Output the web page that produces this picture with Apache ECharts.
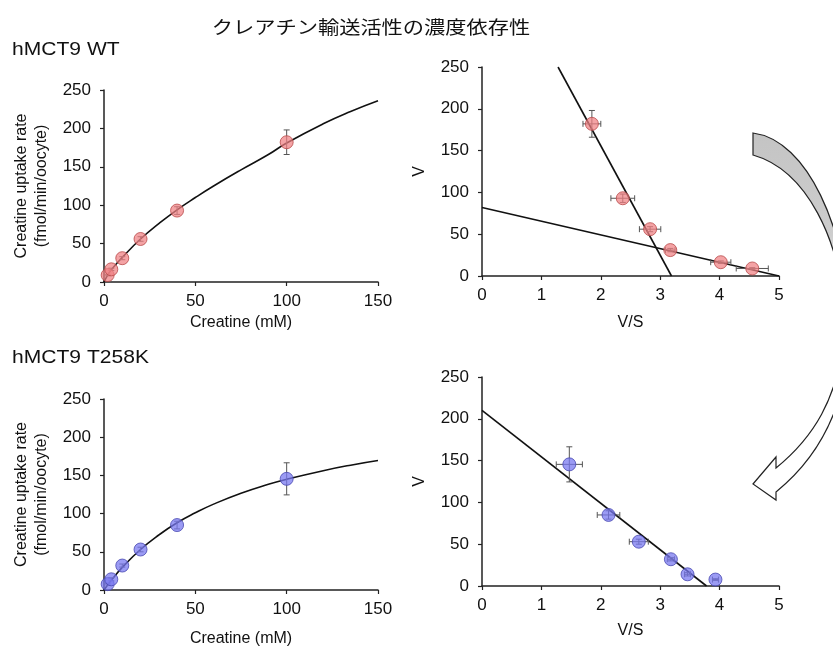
<!DOCTYPE html>
<html>
<head>
<meta charset="utf-8">
<script src="https://cdn.jsdelivr.net/npm/echarts@6/dist/echarts.min.js"></script>
<style>
html,body{margin:0;padding:0;background:#fff;}
#chart{width:833px;height:648px;}
</style>
</head>
<body>
<div id="chart"></div>
<script>
// ---------- data ----------
const titleText = 'クレアチン輸送活性の濃度依存性';
const panelWT = 'hMCT9 WT';
const panelMT = 'hMCT9 T258K';

const conc = [2, 4, 10, 20, 40, 100];                 // Creatine (mM)
const wtRate = [9, 16.5, 31, 56, 93, 182];            // uptake rate WT
const wtRateErr = [1, 1.5, 2, 3, 5, 16];
const wtVS = [4.55, 4.02, 3.17, 2.83, 2.37, 1.85];     // V/S WT
const wtVSErr = [0.27, 0.17, 0.08, 0.18, 0.2, 0.15];

const mtRate = [7.7, 14, 32, 53, 85, 145.5];          // uptake rate T258K
const mtRateErr = [1, 2, 2, 3, 5, 21];
const mtVS = [3.93, 3.46, 3.18, 2.64, 2.13, 1.47];     // V/S T258K
const mtVSErr = [0.05, 0.05, 0.06, 0.16, 0.19, 0.22];

// fitted curves
const fitConc = [0, 2, 4, 10, 20, 30, 40, 50, 60, 75, 90, 100, 120, 135, 150];
const wtFit =   [0, 9, 16, 32, 56, 76, 94, 110, 125, 146, 166, 181, 206, 222, 236];
const mtFit =   [0, 6.5, 12.7, 29.6, 53, 72, 88, 101, 112.4, 126.7, 138.4, 145, 156.2, 163.4, 169.5];

// Eadie-Hofstee regression lines (end points)
const wtLine1VS = [1.28, 3.19];
const wtLine1V  = [250, 0];
const wtLine2VS = [0, 5];
const wtLine2V  = [82, 0];
const mtLineVS  = [0, 3.78];
const mtLineV   = [210, 0];

const mmXTicks = [0, 150, 50];   // min, max, interval
const ehXTicks = [0, 5, 1];
const yTicks   = [0, 250, 50];

// ---------- helpers ----------
const zip = (a, b) => a.map((v, i) => [v, b[i]]);
const font = '"Liberation Sans", Arial, sans-serif';
const axisColor = '#222';

function xAx(gi, t, name, gap) {
  return {
    gridIndex: gi, type: 'value', min: t[0], max: t[1], interval: t[2],
    name: name, nameLocation: 'middle', nameGap: gap,
    nameTextStyle: {fontFamily: font, fontSize: 16, color: '#111'},
    axisLine: {show: true, onZero: false, lineStyle: {color: axisColor, width: 1.5}},
    axisTick: {show: true, inside: false, length: 4, lineStyle: {color: axisColor, width: 1.2}},
    axisLabel: {fontFamily: font, fontSize: 17, color: '#111', margin: 11},
    splitLine: {show: false}
  };
}
function yAx(gi, t, name, gap, lh) {
  return {
    gridIndex: gi, type: 'value', min: t[0], max: t[1], interval: t[2],
    name: name, nameLocation: 'middle', nameGap: gap, nameRotate: 90,
    nameTextStyle: {fontFamily: font, fontSize: 16, color: '#111', lineHeight: lh},
    axisLine: {show: true, onZero: false, lineStyle: {color: axisColor, width: 1.5}},
    axisTick: {show: true, inside: false, length: 4, lineStyle: {color: axisColor, width: 1.2}},
    axisLabel: {fontFamily: font, fontSize: 17, color: '#111', margin: 13},
    splitLine: {show: false}
  };
}

function errSeries(idx, xs, ys, xe, ye) {
  return {
    type: 'custom', xAxisIndex: idx, yAxisIndex: idx, z: 3,
    data: xs.map((x, i) => [x, ys[i], xe ? xe[i] : 0, ye ? ye[i] : 0]),
    encode: {x: 0, y: 1},
    renderItem: function (params, api) {
      const x = api.value(0), y = api.value(1), ex = api.value(2), ey = api.value(3);
      const ch = [];
      const st = {stroke: '#555', lineWidth: 1};
      const cap = 3;
      if (ey > 0) {
        const a = api.coord([x, y - ey]), b = api.coord([x, y + ey]);
        ch.push({type: 'line', shape: {x1: a[0], y1: a[1], x2: b[0], y2: b[1]}, style: st});
        ch.push({type: 'line', shape: {x1: a[0] - cap, y1: a[1], x2: a[0] + cap, y2: a[1]}, style: st});
        ch.push({type: 'line', shape: {x1: b[0] - cap, y1: b[1], x2: b[0] + cap, y2: b[1]}, style: st});
      }
      if (ex > 0) {
        const a = api.coord([x - ex, y]), b = api.coord([x + ex, y]);
        ch.push({type: 'line', shape: {x1: a[0], y1: a[1], x2: b[0], y2: b[1]}, style: st});
        ch.push({type: 'line', shape: {x1: a[0], y1: a[1] - cap, x2: a[0], y2: a[1] + cap}, style: st});
        ch.push({type: 'line', shape: {x1: b[0], y1: b[1] - cap, x2: b[0], y2: b[1] + cap}, style: st});
      }
      return {type: 'group', children: ch};
    }
  };
}

const redStyle = {color: 'rgba(240,128,130,0.9)', borderColor: '#b84a4a', borderWidth: 1};
const blueStyle = {color: 'rgba(120,120,240,0.92)', borderColor: '#4848b0', borderWidth: 1};

function scatter(idx, xs, ys, st) {
  return {type: 'scatter', xAxisIndex: idx, yAxisIndex: idx, z: 4, symbolSize: 13,
          data: zip(xs, ys), itemStyle: st, emphasis: {disabled: true}};
}
function curve(idx, xs, ys, smooth) {
  return {type: 'line', xAxisIndex: idx, yAxisIndex: idx, z: 2, smooth: smooth, showSymbol: false,
          symbol: 'none', data: zip(xs, ys), lineStyle: {color: '#111', width: 1.6}};
}

// decorative curved arrow between the two Eadie-Hofstee panels
const arrowPath = 'M753 133 C808 140 846 230 850 320 C850 405 818 458 776 492 L776 500 L753 484 L776 457 L776 468 C808 442 843 400 844 320 C842 240 806 170 753 155 Z';
const arrowSeries = {
  type: 'custom', coordinateSystem: 'none', z: 1, silent: true,
  data: [0],
  renderItem: function () {
    return {
      type: 'path',
      shape: {pathData: arrowPath},
      style: {
        fill: new echarts.graphic.LinearGradient(0, 0, 0, 1, [
          {offset: 0, color: '#c4c4c4'}, {offset: 0.28, color: '#cdcdcd'},
          {offset: 0.42, color: '#ffffff'}, {offset: 1, color: '#ffffff'}]),
        stroke: '#222', lineWidth: 1.2
      }
    };
  }
};

const chart = echarts.init(document.getElementById('chart'), null, {renderer: 'canvas'});

const yName = 'Creatine uptake rate\n(fmol/min/oocyte)';

const option = {
  animation: false,
  backgroundColor: '#fff',
  grid: [
    {left: 104, top: 90, width: 274, height: 192},
    {left: 482, top: 67, width: 297, height: 209},
    {left: 104, top: 399, width: 274, height: 192},
    {left: 482, top: 377, width: 297, height: 209}
  ],
  xAxis: [
    xAx(0, mmXTicks, 'Creatine (mM)', 33),
    xAx(1, ehXTicks, 'V/S', 39),
    xAx(2, mmXTicks, 'Creatine (mM)', 41),
    xAx(3, ehXTicks, 'V/S', 37)
  ],
  yAxis: [
    yAx(0, yTicks, yName, 52, 20),
    yAx(1, yTicks, 'V', 53, 18),
    yAx(2, yTicks, yName, 52, 20),
    yAx(3, yTicks, 'V', 53, 18)
  ],
  series: [
    curve(0, fitConc, wtFit, true),
    errSeries(0, conc, wtRate, null, wtRateErr),
    scatter(0, conc, wtRate, redStyle),

    curve(1, wtLine1VS, wtLine1V, false),
    curve(1, wtLine2VS, wtLine2V, false),
    errSeries(1, wtVS, wtRate, wtVSErr, wtRateErr),
    scatter(1, wtVS, wtRate, redStyle),

    curve(2, fitConc, mtFit, true),
    errSeries(2, conc, mtRate, null, mtRateErr),
    scatter(2, conc, mtRate, blueStyle),

    curve(3, mtLineVS, mtLineV, false),
    errSeries(3, mtVS, mtRate, mtVSErr, mtRateErr),
    scatter(3, mtVS, mtRate, blueStyle),

    arrowSeries
  ],
  graphic: [
    {type: 'text', x: 371, y: 27, scaleX: 1.18, z: 10,
     style: {text: titleText, align: 'center', verticalAlign: 'middle',
             font: '18px "Noto Sans CJK JP", sans-serif', fill: '#111'}},
    {type: 'text', x: 12, y: 50, scaleX: 1.17,
     style: {text: panelWT, align: 'left', verticalAlign: 'middle',
             font: '18px "Liberation Sans", Arial, sans-serif', fill: '#111'}},
    {type: 'text', x: 12, y: 358, scaleX: 1.17,
     style: {text: panelMT, align: 'left', verticalAlign: 'middle',
             font: '18px "Liberation Sans", Arial, sans-serif', fill: '#111'}}
  ]
};
chart.setOption(option);
</script>
</body>
</html>
